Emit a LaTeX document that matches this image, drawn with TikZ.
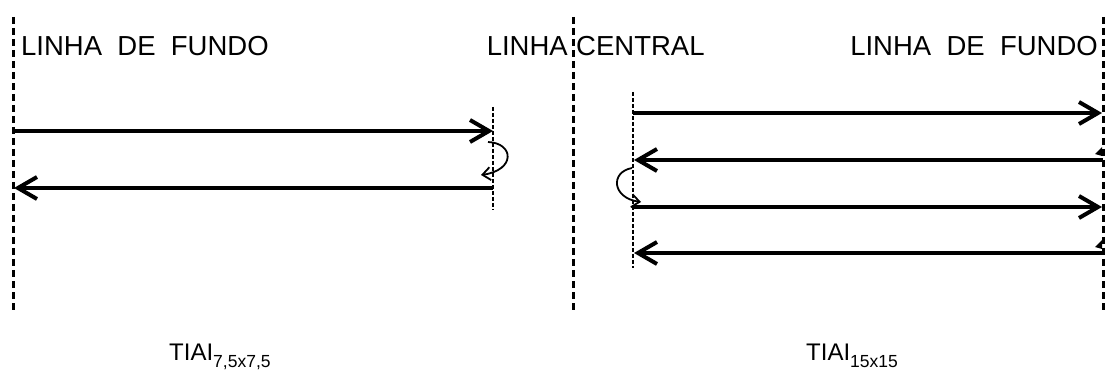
\documentclass[tikz,border=0pt]{standalone}
\usepackage{fontspec}
\setmainfont{Liberation Sans}
\usetikzlibrary{arrows.meta}
\tikzset{
  fieldline/.style={line width=3pt, dash pattern=on 7pt off 4pt},
  turnline/.style={line width=1.1pt, dash pattern=on 4pt off 2pt},
  run/.style={line width=4pt, -{Straight Barb[length=19pt,width=22pt]}},
  turn/.style={line width=1.8pt, -{Straight Barb[length=8pt,width=13pt]}},
  toplabel/.style={inner sep=0pt, font=\fontsize{27.5}{30}\selectfont},
  botlabel/.style={inner sep=0pt, anchor=base west},
  wedge/.style={fill=black, draw=none}
}
\newcommand{\tiaisub}[1]{{\fontsize{24}{26}\selectfont TIAI}\raisebox{-7pt}{\fontsize{17.5}{19}\selectfont #1}}
\begin{document}
\begin{tikzpicture}[x=1pt,y=-1pt]
\useasboundingbox (0,0) rectangle (1106,374);
% field lines
\coordinate (L1) at (13,17);   \coordinate (L2) at (13,310);
\coordinate (M1) at (573,17);  \coordinate (M2) at (573,310);
\coordinate (R1) at (1103,17); \coordinate (R2) at (1103,310);
\draw[fieldline] (L1) -- (L2);
\draw[fieldline] (M1) -- (M2);
\draw[fieldline] (R1) -- (R2);
% turn lines
\coordinate (T1) at (493,107); \coordinate (T2) at (493,210);
\coordinate (U1) at (633,92);  \coordinate (U2) at (633,268);
\draw[turnline] (T1) -- (T2);
\draw[turnline] (U1) -- (U2);
% labels
\node[toplabel, anchor=base west] (lf1) at (21,56) {LINHA~ DE~ FUNDO};
\node[toplabel, anchor=base east] (lc1) at (568,56) {LINHA};
\node[toplabel, anchor=base west] (lc2) at (576,56) {CENTRAL};
\node[toplabel, anchor=base east] (lf2) at (1098,56) {LINHA~ DE~ FUNDO};
\node[botlabel] (t1) at (169,360) {\tiaisub{7,5x7,5}};
\node[botlabel] (t2) at (806,360) {\tiaisub{15x15}};
% left panel runs
\coordinate (a1s) at (13,131);  \coordinate (a1e) at (493,131);
\coordinate (a2s) at (493,188); \coordinate (a2e) at (14,188);
\draw[run] (a1s) -- (a1e);
\draw[run] (a2s) -- (a2e);
\coordinate (c1s) at (488,142); \coordinate (c1e) at (481,175);
\draw[turn] (c1s) .. controls (514,143) and (516,170) .. (c1e);
% right panel runs
\coordinate (b1s) at (633,113);  \coordinate (b1e) at (1102,113);
\coordinate (b2s) at (1103,160); \coordinate (b2e) at (634,160);
\coordinate (b3s) at (633,207);  \coordinate (b3e) at (1102,207);
\coordinate (b4s) at (1103,253); \coordinate (b4e) at (634,253);
\draw[run] (b1s) -- (b1e);
\draw[run] (b2s) -- (b2e);
\draw[run] (b3s) -- (b3e);
\draw[run] (b4s) -- (b4e);
\coordinate (c2s) at (632,168); \coordinate (c2e) at (641,202);
\draw[turn] (c2s) .. controls (610,172) and (612,198) .. (c2e);
% small wedges at the far end line
\fill[wedge] (1095,154) -- (1102,147) -- (1102,156) -- cycle;
\fill[wedge] (1095,247) -- (1102,240) -- (1102,249) -- cycle;
\end{tikzpicture}
\end{document}
